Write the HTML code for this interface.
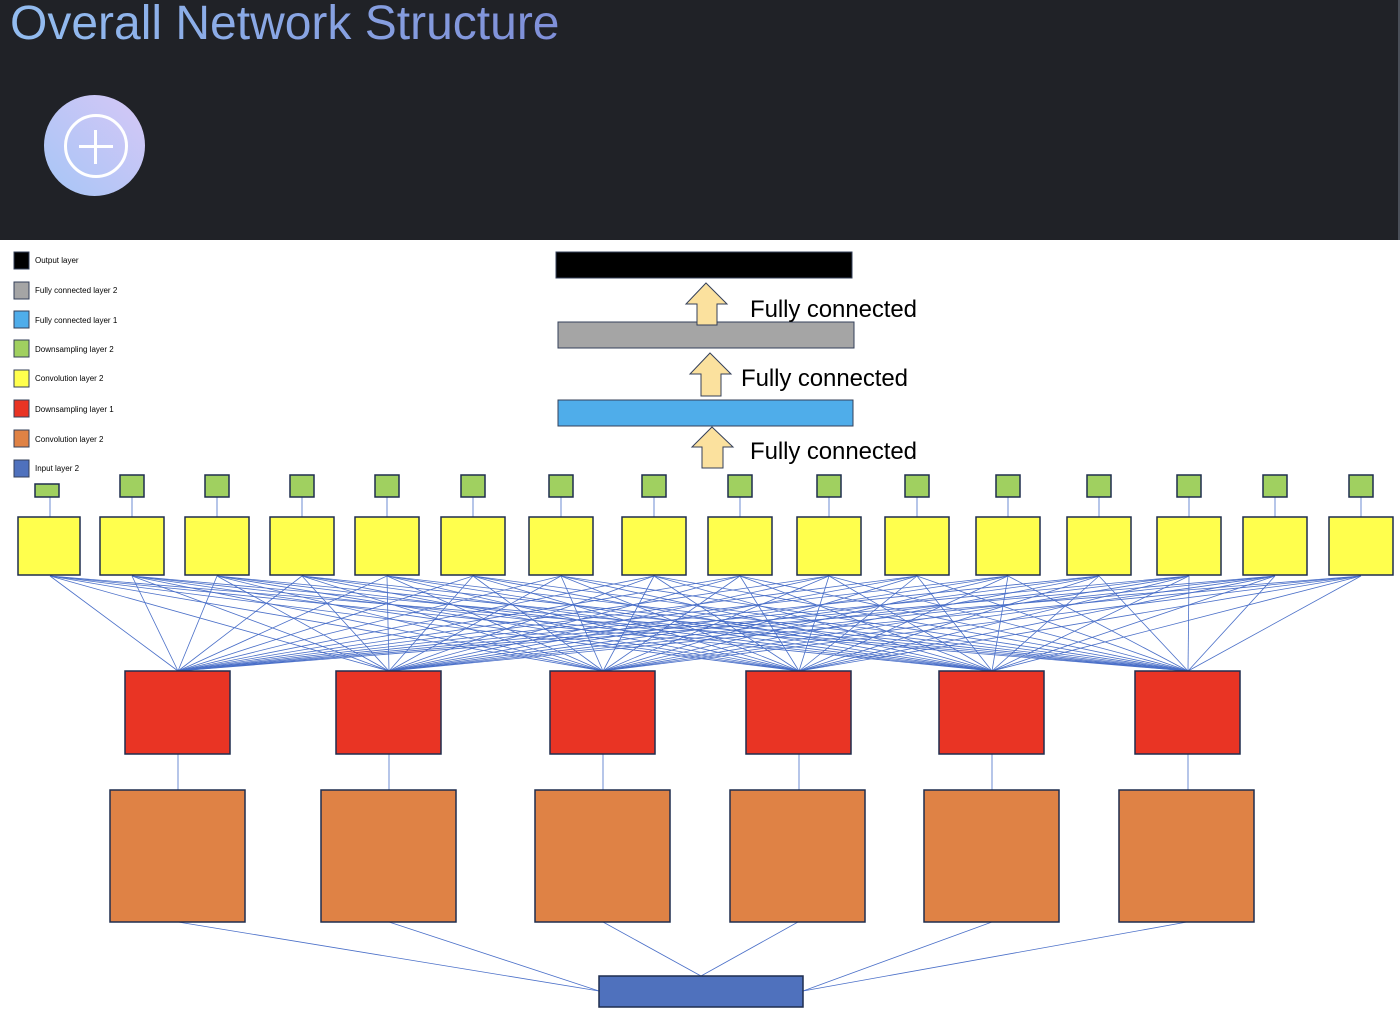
<!DOCTYPE html>
<html><head><meta charset="utf-8"><style>
html,body{margin:0;padding:0;width:1400px;height:1026px;overflow:hidden;background:#fff;font-family:"Liberation Sans",sans-serif}
#hdr{position:absolute;left:0;top:0;width:1398px;height:240px;background:#202227;border-right:2px solid #4a4f58}
#title{position:absolute;left:10px;top:-4px;font-size:48px;white-space:nowrap;background:linear-gradient(90deg,#93bdf0,#7f8fd8);-webkit-background-clip:text;background-clip:text;color:transparent}
#circ{position:absolute;left:44px;top:95px;width:101px;height:101px;border-radius:50%;background:linear-gradient(45deg,#a6c6f6,#d6c7f6)}
#circ div{position:absolute;left:20px;top:19px;width:58px;height:58px;border:3px solid #fff;border-radius:50%}
svg{position:absolute;left:0;top:0}
</style></head><body>
<div id="hdr"><div id="title">Overall Network Structure</div><div id="circ"><div></div>
<span style="position:absolute;left:35px;top:50px;width:34px;height:3px;background:#fff"></span>
<span style="position:absolute;left:50px;top:35px;width:3px;height:34px;background:#fff"></span></div></div>
<svg id="s" width="1400" height="1026" xmlns="http://www.w3.org/2000/svg" style="top:0">
<g font-family="Liberation Sans, sans-serif" font-size="8" fill="#000">
<rect x="14" y="252" width="15" height="17" fill="#000" stroke="#34405a"/><text x="35" y="263">Output layer</text>
<rect x="14" y="282" width="15" height="17" fill="#a5a5a5" stroke="#34405a"/><text x="35" y="293">Fully connected layer 2</text>
<rect x="14" y="311" width="15" height="17" fill="#4fadea" stroke="#34405a"/><text x="35" y="323">Fully connected layer 1</text>
<rect x="14" y="340" width="15" height="17" fill="#a0d060" stroke="#34405a"/><text x="35" y="352">Downsampling layer 2</text>
<rect x="14" y="370" width="15" height="17" fill="#ffff4d" stroke="#34405a"/><text x="35" y="381">Convolution layer 2</text>
<rect x="14" y="400" width="15" height="17" fill="#e93424" stroke="#34405a"/><text x="35" y="412">Downsampling layer 1</text>
<rect x="14" y="430" width="15" height="17" fill="#df8245" stroke="#34405a"/><text x="35" y="442">Convolution layer 2</text>
<rect x="14" y="460" width="15" height="17" fill="#4f71bd" stroke="#34405a"/><text x="35" y="471">Input layer 2</text>
</g>
<g id="lines" stroke="#4a6fc8" stroke-width="0.8" fill="none"></g>
<g id="boxes" stroke="#1f2d4e" stroke-width="1.5"></g>
<rect x="556" y="252" width="296" height="26" fill="#000" stroke="#34405a"/>
<rect x="558" y="322" width="296" height="26" fill="#a5a5a5" stroke="#34405a"/>
<rect x="558" y="400" width="295" height="26" fill="#4fadea" stroke="#34405a"/>
<g fill="#fbe19e" stroke="#34405a" stroke-width="1">
<path d="M706,283 L727,304 L717,304 L717,325 L697,325 L697,304 L686,304 Z"/>
<path d="M710,353 L731,374 L721,374 L721,396 L701,396 L701,374 L690,374 Z"/>
<path d="M712,427 L733,447 L723,447 L723,468 L702,468 L702,447 L692,447 Z"/>
</g>
<g font-family="Liberation Sans, DejaVu Sans, sans-serif" font-size="24" fill="#000">
<text x="750" y="317" textLength="167">Fully connected</text>
<text x="741" y="386" textLength="167">Fully connected</text>
<text x="750" y="459" textLength="167">Fully connected</text>
</g>
</svg>
<script>
var NS="http://www.w3.org/2000/svg";
var L=document.getElementById('lines'),B=document.getElementById('boxes');
function ln(a,b,c,d){var e=document.createElementNS(NS,'line');e.setAttribute('x1',a);e.setAttribute('y1',b);e.setAttribute('x2',c);e.setAttribute('y2',d);L.appendChild(e);}
function rc(x,y,w,h,f){var e=document.createElementNS(NS,'rect');e.setAttribute('x',x);e.setAttribute('y',y);e.setAttribute('width',w);e.setAttribute('height',h);e.setAttribute('fill',f);B.appendChild(e);}
var yl=[18,100,185,270,355,441,529,622,708,797,885,976,1067,1157,1243,1329];
var rd=[125,336,550,746,939,1135];
var orx=[110,321,535,730,924,1119];
yl.forEach(function(x,i){var c=x+32;
 rd.forEach(function(r){ln(c,576,r+53,671);});
 ln(c,497,c,517);
 rc(x,517,i==0?62:64,58,'#ffff4d');
 if(i==0) rc(35,484,24,13,'#a0d060'); else rc(c-12,475,24,22,'#a0d060');
});
rd.forEach(function(r,i){ln(r+53,754,r+53,790);rc(r,671,105,83,'#e93424');});
var tg=[[599,991],[599,991],[701,976],[701,976],[803,991],[803,991]];
orx.forEach(function(x,i){ln(x+68,922,tg[i][0],tg[i][1]);rc(x,790,135,132,'#df8245');});
rc(599,976,204,31,'#4f71bd');
</script>
</body></html>
